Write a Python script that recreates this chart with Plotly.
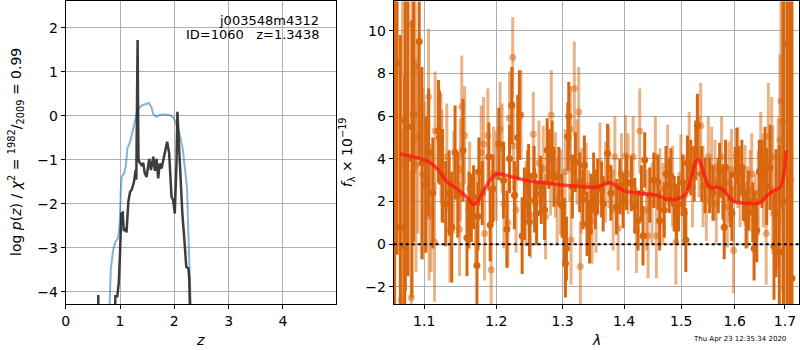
import plotly.graph_objects as go

# ---------------- Left panel: p(z) and chi2 ----------------
z_chi2 = [0.79, 0.812, 0.83, 0.873, 0.916, 0.965, 0.995, 1.014, 1.032, 1.075, 1.110, 1.136, 1.184,
          1.233, 1.277, 1.320, 1.368, 1.41, 1.484, 1.533, 1.576, 1.610, 1.637, 1.679, 1.728, 1.82,
          1.911, 1.985, 2.034, 2.095, 2.156, 2.205, 2.235, 2.25, 2.266, 2.29, 2.32]
chi2_curve = [-5.0, -3.80, -3.50, -3.05, -2.86, -2.78, -2.45, -1.70, -1.38, -1.31, -1.12, -0.74, -0.60,
              -0.35, -0.07, 0.12, 0.20, 0.24, 0.27, 0.29, 0.20, 0.05, 0.01, -0.02, 0.02, 0.03,
              0.02, -0.04, -0.18, -0.40, -0.75, -1.25, -1.65, -2.30, -2.75, -3.60, -5.0]

z_pz = [0.595, 0.600, 0.605, 0.90, 0.915, 0.950, 0.977, 1.000, 1.023, 1.050, 1.070, 1.093, 1.120,
        1.154, 1.185, 1.215, 1.258, 1.288, 1.300, 1.324, 1.340, 1.355, 1.398, 1.428, 1.455,
        1.489, 1.510, 1.538, 1.570, 1.612, 1.642, 1.673, 1.703, 1.734, 1.765, 1.795, 1.826,
        1.868, 1.905, 1.948, 1.978, 2.009, 2.040, 2.057, 2.087, 2.112, 2.148, 2.190, 2.220,
        2.260, 2.275, 2.300]
pz_curve = [-5.0, -4.07, -5.0, -5.0, -4.10, -4.10, -3.80, -3.15, -2.22, -2.20, -2.62, -2.55, -2.65,
            -1.95, -1.73, -1.68, -1.50, -1.23, -1.45, 1.72, -0.98, -1.05, -1.12, -1.07, -1.30,
            -1.39, -1.20, -0.98, -1.23, -0.93, -1.25, -0.98, -1.42, -1.08, -1.20, -1.00, -0.82,
            -0.59, -0.85, -1.84, -1.91, -2.22, -1.08, 0.09, -0.70, -1.46, -2.22, -2.90, -3.43,
            -3.47, -3.70, -5.0]

# ---------------- Right panel: spectrum ----------------
wave_a = [1.0612, 1.0646, 1.0688, 1.0744, 1.0752, 1.0787, 1.0839, 1.0861, 1.0934, 1.0970, 1.1023,
          1.1060, 1.1116, 1.1192, 1.1205, 1.1246, 1.1290, 1.1336, 1.1372, 1.1418, 1.1455,
          1.1528, 1.1583, 1.1611, 1.1644, 1.1676, 1.1723, 1.1737, 1.1751, 1.1798, 1.1893, 1.1912,
          1.1950, 1.2037, 1.2105, 1.2154, 1.2193, 1.2227, 1.2266, 1.2315, 1.2340, 1.2380, 1.2414,
          1.2464, 1.2478, 1.2490, 1.2560, 1.2568, 1.2598, 1.2659, 1.2669, 1.2720, 1.2760, 1.2786,
          1.2837, 1.2864, 1.2941, 1.2992, 1.3028, 1.3044, 1.3060, 1.3082, 1.3097, 1.3154, 1.3201,
          1.3271, 1.3324, 1.3345, 1.3389, 1.3431, 1.3453, 1.3496, 1.3522,
          1.3561, 1.3626, 1.3652, 1.3725, 1.3780, 1.3874, 1.3930, 1.3984, 1.4042, 1.4126, 1.4183,
          1.4239, 1.4297, 1.4324, 1.4354, 1.4441, 1.4514, 1.4584, 1.4615,
          1.4697, 1.4727, 1.4785, 1.4815, 1.4874, 1.4916, 1.4952, 1.5024, 1.5054, 1.5084, 1.5114,
          1.5175, 1.5236, 1.5266, 1.5296, 1.5376, 1.5438, 1.5524, 1.5586, 1.5686, 1.5711, 1.5774,
          1.5799, 1.5824, 1.5920,
          1.5946, 1.6009, 1.6042, 1.6073, 1.6139, 1.6170, 1.6221, 1.6267, 1.6353, 1.6378, 1.6398,
          1.6432, 1.6483, 1.6537, 1.6597, 1.6631, 1.6697, 1.6777, 1.6818, 1.6885, 1.6966, 1.7048,
          1.7104, 1.7145]
flux_a = [1.5, 8.5, 0.8, -0.1, 5.8, 5.5, 4.0, 6.1, 9.5, 3.8, 2.8,
          4.3, 2.4, 5.3, 5.0, 3.2, 1.9, 2.4, 0.8, 4.3, 2.3,
          4.4, 0.3, 1.6, 1.7, 2.2, -1.0, 1.3, 3.4, 2.4, 4.1, 0.9,
          2.6, 4.7, 3.0, 0.7, 4.0, 6.5, 2.3, 5.0, 6.05, 0.4, 1.9,
          2.8, 3.2, 1.05, 3.2, 2.05, 1.45, 2.75, 2.35, 1.6, 4.4, 4.0,
          4.3, 3.15, 3.15, 1.8, 0.55, -0.9, -0.2, 5.05, 6.0, 2.7, 3.85,
          2.9, 2.1, 3.7, 0.95, 0.6, 1.9, 2.9, 2.1,
          2.7, 2.55, 1.9, 4.25, 2.4, 1.75, 2.7, 2.05, 2.9, 2.85, 1.8,
          1.1, 2.4, 0.4, 3.95, 2.3, 3.0, 2.9, 1.1,
          1.6, 3.3, 2.75, 3.2, 1.9, 1.45, 1.9, 2.9, 1.45, 0.2, 3.8,
          3.6, 3.3, 4.4, 5.55, 3.3, 2.75, 2.75, 2.4, 2.75, 3.45, 2.45,
          0.8, 3.6, 2.1,
          1.45, 3.25, 4.15, 3.3, 3.6, 2.4, 1.2, 2.05, 1.5, -0.2, 1.1,
          0.65, 3.4, 3.3, 3.8, 2.7, 3.6, -0.1, 1.45, -0.35, 2.0, 9.4,
          3.0, -1.6]
err_a = [12, 9, 9, 8, 8, 7, 6.5, 6, 5.5, 4.5, 3.2,
         3.0, 2.6, 2.4, 2.2, 2.2, 2.0, 2.0, 2.6, 2.2, 2.0,
         2.4, 1.8, 1.8, 1.6, 1.5, 2.0, 1.6, 1.6, 1.5, 1.6, 1.7,
         1.6, 1.7, 1.8, 1.8, 1.6, 1.8, 1.6, 2.0, 2.1, 1.8, 1.7,
         1.6, 1.5, 1.6, 1.4, 1.5, 1.5, 1.4, 1.4, 1.4, 1.5, 1.4,
         1.5, 1.4, 1.4, 1.5, 1.6, 1.6, 1.5, 1.6, 1.6, 1.5, 1.4,
         1.4, 1.4, 1.4, 1.5, 1.5, 1.4, 1.4, 1.4,
         1.3, 1.3, 1.3, 1.4, 1.3, 1.3, 1.3, 1.3, 1.3, 1.3, 1.3,
         1.4, 1.3, 1.4, 1.3, 1.3, 1.3, 1.3, 1.4,
         1.3, 1.3, 1.3, 1.3, 1.3, 1.4, 1.3, 1.3, 1.4, 1.5, 1.3,
         1.3, 1.3, 1.4, 1.5, 1.3, 1.3, 1.3, 1.3, 1.3, 1.3, 1.3,
         1.5, 1.3, 1.3,
         1.3, 1.3, 1.3, 1.3, 1.3, 1.3, 1.4, 1.4, 1.4, 1.5, 1.4,
         1.5, 1.5, 1.6, 1.7, 1.8, 2.0, 2.5, 3.0, 5.0, 15, 15,
         15, 15]

wave_b = [1.0617, 1.0700, 1.0716, 1.0830, 1.0839, 1.0881, 1.0891, 1.0917, 1.0978, 1.1012, 1.1058,
          1.1066, 1.1092, 1.1138, 1.1146, 1.1226, 1.1236, 1.1304, 1.1347, 1.1400, 1.1480, 1.1490,
          1.1510, 1.1550, 1.1620, 1.1704, 1.1784, 1.1817, 1.1831, 1.1878, 1.1926, 1.1959, 1.1998,
          1.2055, 1.2085, 1.2110, 1.2169, 1.2193, 1.2241, 1.2250, 1.2290, 1.2365, 1.2440,
          1.2507, 1.2548, 1.2634, 1.2700, 1.2735, 1.2812, 1.2823, 1.2889, 1.2915, 1.2967, 1.3040,
          1.3113, 1.3122, 1.3133, 1.3185, 1.3228, 1.3255, 1.3281, 1.3297, 1.3377, 1.3415, 1.3469,
          1.3534, 1.3599, 1.3691, 1.3746, 1.3818, 1.3846, 1.3901, 1.3957, 1.4024, 1.4069, 1.4154,
          1.4211, 1.4268, 1.4383, 1.4412, 1.4481, 1.4539, 1.4557, 1.4620, 1.4673,
          1.4756, 1.4844, 1.4904, 1.4994, 1.5070, 1.5145, 1.5205, 1.5327, 1.5357, 1.5400, 1.5462,
          1.5499, 1.5561, 1.5624, 1.5649, 1.5749, 1.5857, 1.5888, 1.5939,
          1.5977, 1.6060, 1.6105, 1.6202, 1.6247, 1.6299, 1.6333, 1.6400, 1.6463, 1.6511, 1.6563,
          1.6620, 1.6663, 1.6731, 1.6751, 1.6864, 1.6898, 1.6918, 1.6954, 1.7000]
flux_b = [4.5, -2.6, 3.8, -2.5, 10.3, 8.3, 3.7, 5.0, 3.3, 3.2, 6.9,
          1.3, 1.7, 0.1, 5.3, 4.5, 3.7, 4.1, 0.7, 2.9, 0.7, 3.5,
          6.45, 5.1, 2.6, 1.3, 4.3, 4.7, 0.5, 5.1, -1.2, 3.3, 3.2,
          5.4, 4.5, 1.9, 1.0, 5.9, 8.75, 4.6, 1.6, 6.05, 1.9,
          1.35, 5.15, 3.8, 3.55, 1.3, 3.35, 6.05, 3.25, 2.05, 2.45, 3.4,
          4.0, 5.4, 0.2, 7.3, 3.85, 6.2, -1.05, 2.5, 2.75, 1.45, 1.1,
          1.5, 3.8, 2.9, 3.6, 1.6, 4.1, 0.75, 3.3, 4.15, 3.3, 4.1,
          0.65, 5.3, 1.6, 0.4, 1.9, 4.1, 0.4, 2.6, 1.9,
          3.7, 2.7, 0.1, 3.25, 2.3, 4.3, 2.7, 4.1, 5.55, 2.7, 2.05,
          4.1, 3.6, 3.0, 1.9, 4.1, 1.75, 2.9, 3.5,
          -0.3, 3.6, 2.7, 2.75, 1.75, 2.5, 3.3, 1.3, 2.4, 4.1, 3.0,
          0.5, 5.05, 4.1, 2.55, 2.4, 4.9, 6.7, 5.75, 4.0]
err_b = [10, 8, 8, 6, 6, 5, 5, 4.5, 4, 3.5, 3.2,
         3.0, 3.0, 2.8, 2.8, 2.6, 2.6, 2.5, 2.5, 2.4, 2.2, 2.4,
         2.4, 2.3, 2.2, 2.2, 2.2, 2.2, 2.2, 2.2, 2.3, 2.2, 2.1,
         2.2, 2.1, 2.1, 2.1, 2.2, 1.9, 2.1, 2.0, 2.1, 2.0,
         2.0, 2.0, 2.0, 2.0, 2.0, 2.0, 2.1, 2.0, 2.0, 2.0, 2.0,
         2.0, 2.0, 2.1, 2.2, 2.0, 2.1, 2.1, 2.0, 2.0, 2.0, 2.0,
         1.9, 1.9, 1.9, 1.9, 1.9, 1.9, 2.0, 1.9, 1.9, 1.9, 1.9,
         2.0, 2.0, 1.9, 2.0, 1.9, 1.9, 2.0, 1.9, 1.9,
         1.9, 1.9, 2.0, 1.9, 1.9, 1.9, 1.9, 1.9, 2.0, 1.9, 1.9,
         1.9, 1.9, 1.9, 1.9, 1.9, 1.9, 1.9, 1.9,
         2.0, 1.9, 1.9, 1.9, 1.9, 1.9, 1.9, 2.0, 2.0, 2.1, 2.2,
         2.4, 2.5, 2.8, 3.0, 3.5, 4.0, 5.0, 8.0, 12]

wave_model = [1.068, 1.080, 1.090, 1.1057, 1.119, 1.130, 1.146, 1.155, 1.162, 1.167, 1.172,
              1.180, 1.190, 1.200, 1.220, 1.2431, 1.270, 1.300, 1.330, 1.355, 1.368, 1.377,
              1.388, 1.400, 1.430, 1.455, 1.474, 1.490, 1.500, 1.507, 1.5136, 1.520, 1.5258,
              1.5304, 1.536, 1.5418, 1.549, 1.5567, 1.565, 1.575, 1.585, 1.595, 1.600, 1.620,
              1.640, 1.650, 1.6694, 1.683, 1.6925, 1.697, 1.700, 1.7025]
flux_model = [4.23, 4.15, 4.05, 3.87, 3.47, 2.95, 2.55, 2.30, 2.05, 1.88, 1.95,
              2.40, 2.95, 3.29, 3.18, 3.00, 2.88, 2.77, 2.70, 2.68, 2.82, 2.88,
              2.70, 2.50, 2.38, 2.30, 2.12, 2.10, 2.20, 2.30, 2.70, 3.30, 3.80,
              3.97, 3.75, 3.30, 2.80, 2.62, 2.68, 2.60, 2.35, 2.05, 1.98, 1.92,
              1.90, 1.95, 2.40, 2.55, 2.75, 3.20, 3.70, 4.40]

p_ticks = [1.1, 1.2, 1.3, 1.4, 1.5, 1.6, 1.7]
p_ticktext = ["1.1", "1.2", "1.3", "1.4", "1.5", "1.6", "1.7"]

title_obj = "j003548m4312"
title_id = "ID=1060&nbsp;&nbsp;&nbsp;z=1.3438"
stamp = "Thu Apr 23 12:35:34 2020"

FONT = "DejaVu Sans"
DARK = "rgb(216,102,14)"
LIGHT = "rgba(216,102,14,0.5)"

fig = go.Figure()

fig.add_trace(go.Scatter(x=z_chi2, y=chi2_curve, mode="lines",
                         line=dict(color="rgba(31,119,180,0.55)", width=2),
                         xaxis="x", yaxis="y", showlegend=False))
fig.add_trace(go.Scatter(x=z_pz, y=pz_curve, mode="lines",
                         line=dict(color="rgba(40,40,40,0.9)", width=2.5),
                         xaxis="x", yaxis="y", showlegend=False))

fig.add_trace(go.Scatter(x=wave_b, y=flux_b, mode="markers",
                         marker=dict(color=LIGHT, size=7, line=dict(width=0)),
                         error_y=dict(type="data", array=err_b, visible=True, color=LIGHT,
                                      thickness=3, width=0),
                         xaxis="x2", yaxis="y2", showlegend=False))
fig.add_trace(go.Scatter(x=wave_a, y=flux_a, mode="markers",
                         marker=dict(color=DARK, size=7, line=dict(width=0)),
                         error_y=dict(type="data", array=err_a, visible=True, color=DARK,
                                      thickness=3, width=0),
                         xaxis="x2", yaxis="y2", showlegend=False))
fig.add_trace(go.Scatter(x=wave_model, y=flux_model, mode="lines",
                         line=dict(color="rgba(255,20,20,0.75)", width=3.5, shape="spline"),
                         xaxis="x2", yaxis="y2", showlegend=False))

axis_common = dict(showline=True, linecolor="black", linewidth=1, mirror=True,
                   ticks="outside", ticklen=4, tickcolor="black",
                   showgrid=True, gridcolor="#b0b0b0", gridwidth=1, zeroline=False,
                   tickfont=dict(family=FONT, size=14, color="black"))

fig.update_layout(
    width=800, height=350,
    margin=dict(l=0, r=0, t=0, b=0),
    paper_bgcolor="white", plot_bgcolor="white",
    font=dict(family=FONT, color="black"),
    hovermode=False,
    xaxis=dict(domain=[0.0775, 0.4166], range=[0, 4.97], tickvals=[0, 1, 2, 3, 4],
               anchor="y", **axis_common),
    yaxis=dict(domain=[0.131, 0.996], range=[-4.28, 2.6], tickvals=[-4, -3, -2, -1, 0, 1, 2],
               ticktext=["\u22124", "\u22123", "\u22122", "\u22121", "0", "1", "2"],
               anchor="x", **axis_common),
    xaxis2=dict(domain=[0.4896, 0.999], type="log", range=[0.02543, 0.23793],
                tickvals=p_ticks, ticktext=p_ticktext, anchor="y2", **axis_common),
    yaxis2=dict(domain=[0.131, 0.996], range=[-2.81, 11.38],
                tickvals=[-2, 0, 2, 4, 6, 8, 10],
                ticktext=["\u22122", "0", "2", "4", "6", "8", "10"],
                anchor="x2", **axis_common),
)

fig.add_shape(type="line", xref="x2 domain", yref="y2", x0=0, x1=1, y0=0, y1=0,
              line=dict(color="black", width=2, dash="dot"))

ann = [
    dict(text=title_obj, x=319, y=20),
    dict(text=title_id, x=319, y=35),
]
for a in ann:
    fig.add_annotation(text=a["text"], xref="paper", yref="paper",
                       x=a["x"] / 800, y=1 - a["y"] / 350, xanchor="right", yanchor="middle",
                       showarrow=False, font=dict(family=FONT, size=13, color="black"))

fig.add_annotation(text="log <i>p</i>(<i>z</i>) / <i>\u03c7</i><sup>2</sup> = "
                        "<sup>1982</sup>/<sub>2009</sub> = 0.99",
                   xref="paper", yref="paper", x=12 / 800, y=1 - 152 / 350, textangle=-90,
                   xanchor="center", yanchor="middle", showarrow=False,
                   font=dict(family=FONT, size=14, color="black"))
fig.add_annotation(text="<i>f</i><sub>\u03bb</sub> \u00d7 10<sup>\u221219</sup>",
                   xref="paper", yref="paper", x=345 / 800, y=1 - 152 / 350, textangle=-90,
                   xanchor="center", yanchor="middle", showarrow=False,
                   font=dict(family=FONT, size=14, color="black"))
fig.add_annotation(text="<i>z</i>", xref="paper", yref="paper", x=197 / 800, y=1 - 340 / 350,
                   xanchor="center", yanchor="middle", showarrow=False,
                   font=dict(family=FONT, size=14, color="black"))
fig.add_annotation(text="<i>\u03bb</i>", xref="paper", yref="paper", x=595 / 800, y=1 - 340 / 350,
                   xanchor="center", yanchor="middle", showarrow=False,
                   font=dict(family=FONT, size=14, color="black"))
fig.add_annotation(text=stamp, xref="paper", yref="paper", x=788 / 800, y=1 - 339 / 350,
                   xanchor="right", yanchor="middle", showarrow=False,
                   font=dict(family=FONT, size=7, color="black"))

fig.write_html("out.html", config={"displayModeBar": False},
               post_script="document.body.style.margin='0px';document.body.style.overflow='hidden';")
